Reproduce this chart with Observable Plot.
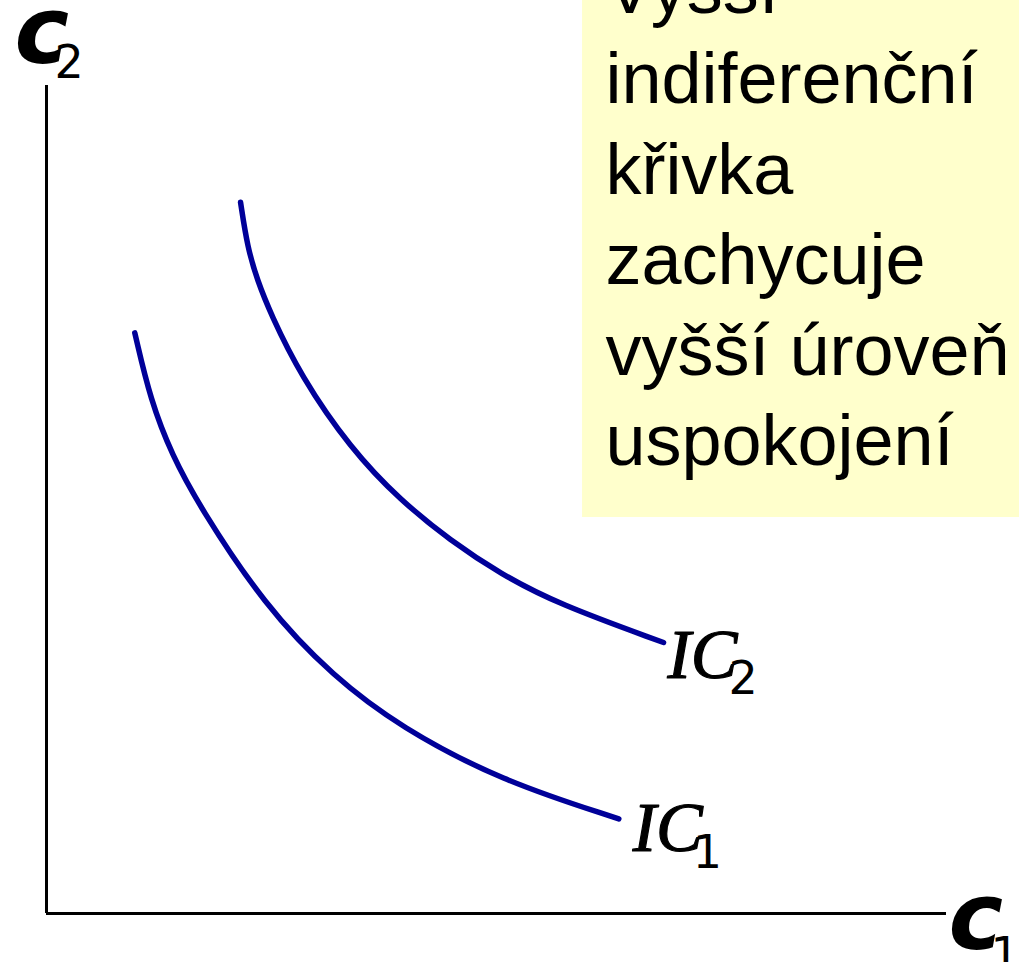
<!DOCTYPE html>
<html>
<head>
<meta charset="utf-8">
<script src="https://cdn.jsdelivr.net/npm/d3@7"></script>
<script src="https://cdn.jsdelivr.net/npm/@observablehq/plot@0.6"></script>
<style>
  html, body { margin: 0; padding: 0; background: #fff; overflow: hidden; }
  #chart svg { display: block; }
</style>
</head>
<body>
<div id="chart"></div>
<script>
// Indifference curve IC1 (lower)
const ic1X = [9.81, 11.56, 13.97, 16.94, 24.22, 31.92, 39.33, 50.44, 63.59];
const ic1Y = [64.52, 57.0, 50.89, 45.33, 34.22, 26.26, 20.70, 14.78, 10.52];
// Indifference curve IC2 (higher)
const ic2X = [21.56, 22.33, 23.44, 24.89, 28.22, 33.78, 39.33, 44.89, 50.44, 56.78, 68.56];
const ic2Y = [79.03, 74.0, 70.33, 66.67, 59.78, 51.67, 45.89, 41.44, 37.74, 34.41, 30.11];
const seriesNames = ["1", "2"];
const axisEnds = {x: 100, y: 92};
const noteLines = ["Vyšší", "indiferenční", "křivka", "zachycuje", "vyšší úroveň", "uspokojení"];

const series = [
  {name: seriesNames[0], pts: ic1X.map((x, i) => ({x, y: ic1Y[i]})), dx: 14, dy: 32, sdx: 74, sdy: 49},
  {name: seriesNames[1], pts: ic2X.map((x, i) => ({x, y: ic2Y[i]})), dx: 4, dy: 35, sdx: 65, sdy: 51}
];

const blue = "#000099";
const marks = [
  // note box
  Plot.rect([{x1: 59.56, x2: 130, y1: 44.0, y2: 130}], {x1: "x1", x2: "x2", y1: "y1", y2: "y2", fill: "#FFFFCC", clip: true}),
  Plot.text([noteLines.join("\n")], {
    x: 62.1, y: 49.78, text: d => d, textAnchor: "start", lineAnchor: "bottom",
    lineHeight: 1.257, fontSize: 72, fontFamily: "Liberation Sans, Arial, sans-serif", fill: "#000"
  }),
  // axes
  Plot.ruleX([0], {y1: 0, y2: axisEnds.y, stroke: "#000", strokeWidth: 3}),
  Plot.ruleY([0], {x1: 0, x2: axisEnds.x, stroke: "#000", strokeWidth: 3}),
  // axis labels
  Plot.text([{x: 0, y: axisEnds.y}], {x: "x", y: "y", text: () => "c", dx: -32, dy: -23, textAnchor: "start", lineAnchor: "bottom",
    fontSize: 92, fontWeight: "bold", fontStyle: "italic", fontFamily: "DejaVu Sans, Verdana, sans-serif", fill: "#000"}),
  Plot.text([{x: 0, y: axisEnds.y}], {x: "x", y: "y", text: () => "2", dx: 8, dy: -8, textAnchor: "start", lineAnchor: "bottom",
    fontSize: 46, fontFamily: "DejaVu Sans, Verdana, sans-serif", fill: "#000"}),
  Plot.text([{x: axisEnds.x, y: 0}], {x: "x", y: "y", text: () => "c", dx: 2, dy: 35, textAnchor: "start", lineAnchor: "bottom",
    fontSize: 92, fontWeight: "bold", fontStyle: "italic", fontFamily: "DejaVu Sans, Verdana, sans-serif", fill: "#000"}),
  Plot.text([{x: axisEnds.x, y: 0}], {x: "x", y: "y", text: () => "1", dx: 44, dy: 56, textAnchor: "start", lineAnchor: "bottom",
    fontSize: 46, fontFamily: "DejaVu Sans, Verdana, sans-serif", fill: "#000"})
];

for (const s of series) {
  marks.push(Plot.line(s.pts, {x: "x", y: "y", stroke: blue, strokeWidth: 5.5, curve: "basis"}));
  const last = s.pts[s.pts.length - 1];
  marks.push(Plot.text([last], {x: "x", y: "y", text: () => "IC", dx: s.dx, dy: s.dy, textAnchor: "start", lineAnchor: "bottom",
    fontSize: 70, fontStyle: "italic", fontFamily: "Liberation Serif, Times New Roman, serif", fill: "#000",
    stroke: "#000", strokeWidth: 1.2}));
  marks.push(Plot.text([last], {x: "x", y: "y", text: () => s.name, dx: s.sdx, dy: s.sdy, textAnchor: "start", lineAnchor: "bottom",
    fontSize: 46, fontFamily: "DejaVu Sans, Verdana, sans-serif", fill: "#000"}));
}

const chart = Plot.plot({
  width: 1019,
  height: 962,
  margin: 0,
  x: {domain: [0, 100], range: [46, 946], axis: null},
  y: {domain: [0, 100], range: [913, 13], axis: null},
  marks
});
document.getElementById("chart").appendChild(chart);
</script>
</body>
</html>
